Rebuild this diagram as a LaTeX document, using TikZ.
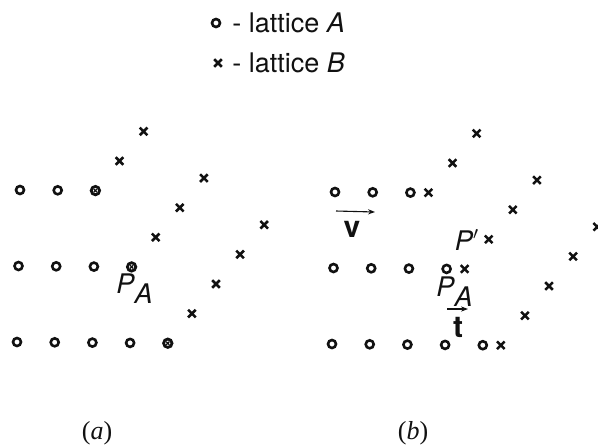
\documentclass[tikz,border=0pt]{standalone}
\usepackage{fontspec}
\setmainfont{TeX Gyre Heros}
\newfontfamily\capfont{Liberation Serif}
\usetikzlibrary{arrows.meta,calc}
\definecolor{vink}{HTML}{111111}
\tikzset{
  lbl/.style={font=\fontsize{13.5}{15}\selectfont,text=vink,inner sep=1pt},
  caplbl/.style={font=\fontsize{13}{15}\selectfont\capfont,text=vink,inner sep=1pt},
  vec/.style={-{Stealth[length=3.5pt,width=2.6pt]},line width=0.55pt,draw=vink},
  siteA/.pic={\draw[line width=1.3pt,vink] (0,0) circle[radius=2pt];},
  siteB/.pic={\draw[line width=1.25pt,vink] (-1.9pt,-1.9pt)--(1.9pt,1.9pt) (-1.9pt,1.9pt)--(1.9pt,-1.9pt);},
  siteAB/.pic={\draw[line width=1.4pt,vink] (0,0) circle[radius=2.1pt];
    \draw[line width=0.6pt,vink] (-0.8pt,-0.8pt)--(0.8pt,0.8pt) (-0.8pt,0.8pt)--(0.8pt,-0.8pt);},
}
\begin{document}
\begin{tikzpicture}[x=0.5pt,y=-0.5pt]
  \useasboundingbox (0,0) rectangle (598,446);
  % legend
  \pic at (216,23) {siteA};
  \node[lbl,anchor=west] (legA) at (230,23) {-\ lattice \textit{A}};
  \pic at (218,63) {siteB};
  \node[lbl,anchor=west] (legB) at (230,63) {-\ lattice \textit{B}};
  % (a): lattice A, coincident sites marked
  \foreach \r in {0,1,2}{
    \pgfmathtruncatemacro\n{\r+1}
    \foreach \i in {0,...,\n}
      \pic at ({20+37.7*\i-1.5*\r},{190+0.3*\i+76*\r}) {siteA};
    \pic at ({20+37.7*(\r+2)-1.5*\r},{190+0.3*(\r+2)+76*\r}) {siteAB};
  }
  % (a): lattice B
  \foreach \k in {0,1,2}{
    \pgfmathtruncatemacro\n{\k+1}
    \foreach \j in {0,...,\n}
      \pic at ({143.6+60.3*\k-24.1*\j},{131.4+46.7*\k+29.6*\j}) {siteB};
  }
  \node[lbl] (pa) at (135,289) {\textit{P}$_{\textit{A}}$};
  % (b): both lattices, B moved by t
  \foreach \r in {0,1,2}{
    \pgfmathtruncatemacro\n{\r+2}
    \foreach \i in {0,...,\n}
      \pic at ({335+37.7*\i-1.5*\r},{192+0.3*\i+76*\r}) {siteA};
  }
  \foreach \k in {0,1,2}{
    \pgfmathtruncatemacro\n{\k+2}
    \foreach \j in {0,...,\n}
      \pic at ({476.6+60.3*\k-24.1*\j},{133.4+46.7*\k+29.6*\j}) {siteB};
  }
  \coordinate (v0) at (336,211);
  \coordinate (v1) at (375,212);
  \draw[vec] (v0) -- (v1);
  \node[lbl,font=\fontsize{15}{17}\selectfont\bfseries] (v) at (352,229) {v};
  \node[lbl] (pp) at (467,240) {\textit{P}$'$};
  \node[lbl] (pb) at (455,292) {\textit{P}$_{\textit{A}}$};
  \coordinate (t0) at (447,309);
  \coordinate (t1) at (468,309);
  \draw[vec] (t0) -- (t1);
  \node[lbl,font=\fontsize{15}{17}\selectfont\bfseries] (t) at (458,327) {t};
  % captions
  \node[caplbl] (capa) at (97,433) {(\textit{a})};
  \node[caplbl] (capb) at (413,433) {(\textit{b})};
\end{tikzpicture}
\end{document}
